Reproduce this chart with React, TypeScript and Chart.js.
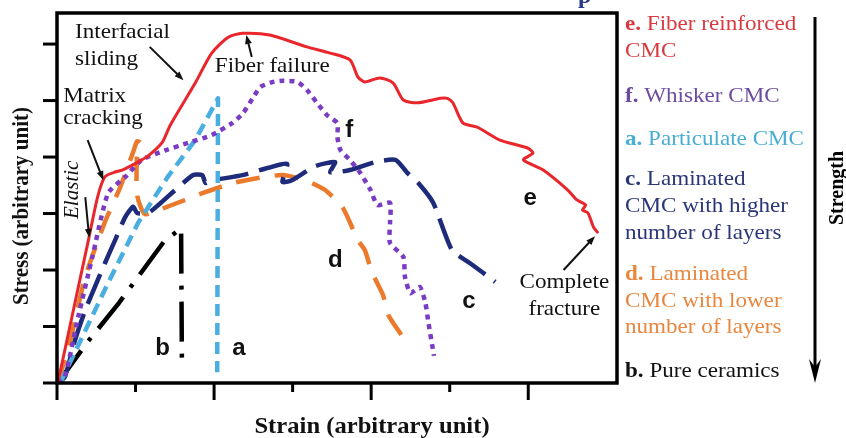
import React, { useEffect, useRef } from "react";
import { Chart, registerables } from "chart.js";

Chart.register(...registerables);

// ---------- axis ticks (no tick labels in the reference) ----------
const xMajorTicks = [0, 2, 4, 6];
const xMinorTicks = [1, 3, 5];
const yTicks = [0, 1, 2, 3, 4, 5, 6];
const X_MAX = 7.13;
const Y_MAX = 6.55;

// ---------- series (strain, stress) in arbitrary units ----------
// e. Fiber reinforced CMC
const eStrain = [0.01, 0.4, 0.52, 0.61, 0.75, 0.83, 1.03, 1.16, 1.34, 1.44, 1.76, 1.97, 2.18, 2.36, 2.71, 3.18, 3.48, 3.73, 3.83, 3.92, 4.11, 4.28, 4.41, 4.59, 4.88, 4.97, 5.04, 5.17, 5.35, 5.64, 5.99, 6.06, 5.94, 6.19, 6.5, 6.62, 6.73, 6.69, 6.76, 6.83, 6.88];
const eStress = [0, 2.53, 3.31, 3.65, 3.74, 3.77, 3.91, 4.02, 4.26, 4.56, 5.31, 5.84, 6.12, 6.19, 6.16, 5.95, 5.84, 5.72, 5.42, 5.33, 5.4, 5.31, 5.01, 4.96, 5.04, 5.04, 4.96, 4.6, 4.53, 4.3, 4.16, 4.07, 3.95, 3.77, 3.42, 3.24, 3.15, 3.06, 3.01, 2.76, 2.67];
// f. Whisker CMC
const fStrain = [0.01, 0.1, 0.27, 0.45, 0.65, 0.87, 1.08, 1.38, 1.67, 1.97, 2.23, 2.37, 2.5, 2.59, 2.75, 2.88, 3.06, 3.18, 3.31, 3.44, 3.57, 3.57, 3.61, 3.73, 3.86, 3.99, 4.08, 4.24, 4.24, 4.24, 4.41, 4.43, 4.5, 4.62, 4.69, 4.73, 4.8];
const fStress = [0, 0.11, 1.17, 2.23, 3.36, 3.65, 3.95, 4.12, 4.25, 4.39, 4.6, 4.78, 5.06, 5.24, 5.33, 5.35, 5.33, 5.19, 4.96, 4.74, 4.6, 4.35, 4.12, 3.95, 3.72, 3.42, 3.15, 3.19, 2.83, 2.48, 2.23, 1.88, 1.59, 1.7, 1.42, 1.06, 0.48];
// a. Particulate CMC
const aStrain = [0.04, 0.32, 0.65, 1.03, 1.41, 1.76, 2.05, 2.04];
const aStress = [0, 0.81, 1.77, 2.83, 3.65, 4.3, 5.04, 0.19];
// c. Laminated CMC with higher number of layers
const cStrain = [0.01, 0.1, 0.23, 0.36, 0.61, 0.74, 0.87, 0.97, 1.02, 1.16, 1.29, 1.73, 1.85, 1.89, 1.95, 2.36, 2.69, 2.93, 2.87, 2.99, 3.29, 3.54, 3.48, 3.73, 4.05, 4.31, 4.46, 4.6, 4.79, 5.03, 5.26, 5.58];
const cStress = [0, 0.11, 0.76, 1.29, 2.12, 2.53, 2.94, 3.12, 3.01, 3.01, 3.15, 3.68, 3.68, 3.54, 3.58, 3.68, 3.81, 3.88, 3.56, 3.59, 3.84, 3.91, 3.73, 3.77, 3.91, 3.95, 3.72, 3.54, 3.19, 2.35, 2.12, 1.79];
// d. Laminated CMC with lower number of layers
const dStrain = [0.01, 0.17, 0.36, 0.61, 0.8, 0.97, 1.02, 1.06, 1.02, 1.02, 1.12, 1.4, 1.63, 1.85, 2.24, 2.56, 2.87, 3.16, 3.41, 3.64, 3.83, 3.92, 4.01, 4.15, 4.22, 4.41];
const dStress = [0, 0.76, 1.88, 2.85, 3.45, 4.09, 4.28, 4.25, 4.09, 3.33, 2.99, 3.12, 3.24, 3.36, 3.54, 3.63, 3.68, 3.59, 3.42, 3.1, 2.53, 2.35, 1.96, 1.56, 1.2, 0.8];
// b. Pure ceramics
const bStrain = [0.01, 0.38, 0.79, 1.36, 1.58, 1.59];
const bStress = [0, 0.71, 1.42, 2.5, 2.74, 0.44];

// ---------- annotations (data coordinates) ----------
const plotNotes = [
  { text: "Interfacial", x: 0.23, y: 6.11, align: "left" },
  { text: "sliding", x: 0.23, y: 5.63, align: "left" },
  { text: "Matrix", x: 0.08, y: 4.97, align: "left" },
  { text: "cracking", x: 0.08, y: 4.58, align: "left" },
  { text: "Fiber failure", x: 2.01, y: 5.5, align: "left" },
  { text: "Complete", x: 6.46, y: 1.68, align: "center" },
  { text: "fracture", x: 6.46, y: 1.2, align: "center" },
];
const curveLetters = [
  { text: "f", x: 3.67, y: 4.35 },
  { text: "e", x: 5.94, y: 3.15 },
  { text: "d", x: 3.45, y: 2.05 },
  { text: "c", x: 5.16, y: 1.33 },
  { text: "b", x: 1.25, y: 0.5 },
  { text: "a", x: 2.23, y: 0.5 },
];
const noteArrows = [
  { x1: 1.18, y1: 5.95, x2: 1.61, y2: 5.36 },
  { x1: 2.48, y1: 5.77, x2: 2.41, y2: 6.16 },
  { x1: 0.39, y1: 4.3, x2: 0.59, y2: 3.59 },
  { x1: 0.36, y1: 3.29, x2: 0.41, y2: 2.57 },
  { x1: 6.45, y1: 2.0, x2: 6.85, y2: 2.6 },
];

// ---------- legend text (right side) ----------
const legendLines = [
  { bold: "e.", rest: " Fiber reinforced", color: "#d93a40", dy: 17 },
  { bold: "", rest: "CMC", color: "#d93a40", dy: 44 },
  { bold: "f.", rest: " Whisker CMC", color: "#6d4c9f", dy: 89 },
  { bold: "a.", rest: " Particulate CMC", color: "#4aaed4", dy: 132 },
  { bold: "c.", rest: " Laminated", color: "#2a3676", dy: 172 },
  { bold: "", rest: "CMC with higher", color: "#2a3676", dy: 199 },
  { bold: "", rest: "number of layers", color: "#2a3676", dy: 226 },
  { bold: "d.", rest: " Laminated", color: "#e8873f", dy: 267 },
  { bold: "", rest: "CMC with lower", color: "#e8873f", dy: 294 },
  { bold: "", rest: "number of layers", color: "#e8873f", dy: 320 },
  { bold: "b.", rest: " Pure ceramics", color: "#111111", dy: 364 },
];

const SERIF = "'Liberation Serif', 'Times New Roman', serif";
const SANS = "'Liberation Sans', Arial, sans-serif";

function pts(xs: number[], ys: number[]) {
  return xs.map((v, i) => ({ x: v, y: ys[i] }));
}

function drawText(
  ctx: CanvasRenderingContext2D,
  s: string,
  x: number,
  y: number,
  font: string,
  color: string,
  align: string = "left",
  sx: number = 1.05
) {
  ctx.save();
  ctx.font = font;
  ctx.fillStyle = color;
  ctx.textAlign = "left";
  ctx.textBaseline = "alphabetic";
  const w = ctx.measureText(s).width * sx;
  const x0 = align === "center" ? x - w / 2 : align === "right" ? x - w : x;
  ctx.translate(x0, y);
  ctx.scale(sx, 1);
  ctx.fillText(s, 0, 0);
  ctx.restore();
  return w;
}

function drawArrow(ctx: CanvasRenderingContext2D, x1: number, y1: number, x2: number, y2: number, head = 9, lw = 2) {
  const ang = Math.atan2(y2 - y1, x2 - x1);
  const c = Math.cos(ang), s = Math.sin(ang);
  ctx.lineWidth = lw;
  ctx.beginPath();
  ctx.moveTo(x1, y1);
  ctx.lineTo(x2 - c * head * 0.7, y2 - s * head * 0.7);
  ctx.stroke();
  const bx = x2 - c * head, by = y2 - s * head;
  const hw = head * 0.38;
  ctx.beginPath();
  ctx.moveTo(x2, y2);
  ctx.lineTo(bx + s * hw, by - c * hw);
  ctx.lineTo(bx - s * hw, by + c * hw);
  ctx.closePath();
  ctx.fill();
}

const overlay = {
  id: "overlay",
  afterDatasetsDraw(chart: any) {
    const { ctx, chartArea: ca } = chart;
    const xs = chart.scales.x, ys = chart.scales.y;
    const px = (v: number) => xs.getPixelForValue(v);
    const py = (v: number) => ys.getPixelForValue(v);
    ctx.save();
    ctx.strokeStyle = "#000";
    ctx.fillStyle = "#000";
    // frame
    ctx.lineWidth = 3.5;
    ctx.beginPath();
    ctx.rect(ca.left, ca.top, ca.right - ca.left, ca.bottom - ca.top);
    ctx.stroke();
    // y ticks
    ctx.lineWidth = 3;
    yTicks.forEach((t) => {
      const y = py(t);
      ctx.beginPath();
      ctx.moveTo(ca.left - 14, y);
      ctx.lineTo(ca.left, y);
      ctx.stroke();
    });
    xMajorTicks.forEach((t) => {
      const x = px(t);
      ctx.beginPath();
      ctx.moveTo(x, ca.bottom);
      ctx.lineTo(x, ca.bottom + 17);
      ctx.stroke();
    });
    xMinorTicks.forEach((t) => {
      const x = px(t);
      ctx.beginPath();
      ctx.moveTo(x, ca.bottom);
      ctx.lineTo(x, ca.bottom + 9);
      ctx.stroke();
    });

    // annotations
    plotNotes.forEach((n) => drawText(ctx, n.text, px(n.x), py(n.y), `22px ${SERIF}`, "#111", n.align));
    curveLetters.forEach((n) => drawText(ctx, n.text, px(n.x), py(n.y), `bold 24px ${SANS}`, "#111", "left", 1));
    // Elastic (rotated, italic)
    ctx.save();
    ctx.translate(px(0.2), py(3.42));
    ctx.rotate(-Math.PI / 2);
    ctx.font = `italic 21px ${SERIF}`;
    ctx.fillStyle = "#111";
    ctx.textAlign = "center";
    ctx.textBaseline = "middle";
    ctx.fillText("Elastic", 0, 0);
    ctx.restore();
    ctx.strokeStyle = "#111";
    ctx.fillStyle = "#111";
    noteArrows.forEach((a) => drawArrow(ctx, px(a.x1), py(a.y1), px(a.x2), py(a.y2)));

    // legend text on the right
    const lx = ca.right + 8;
    legendLines.forEach((l) => {
      let x = lx;
      if (l.bold) x += drawText(ctx, l.bold, x, ca.top + l.dy, `bold 22px ${SERIF}`, l.color);
      drawText(ctx, l.rest, x, ca.top + l.dy, `22px ${SERIF}`, l.color);
    });

    // Strength arrow
    const sxp = ca.right + 198;
    ctx.strokeStyle = "#000";
    ctx.fillStyle = "#000";
    ctx.lineWidth = 3;
    ctx.beginPath();
    ctx.moveTo(sxp, ca.top + 4);
    ctx.lineTo(sxp, ca.bottom - 14);
    ctx.stroke();
    ctx.beginPath();
    ctx.moveTo(sxp, ca.bottom);
    ctx.lineTo(sxp - 6, ca.bottom - 24);
    ctx.lineTo(sxp, ca.bottom - 16);
    ctx.lineTo(sxp + 6, ca.bottom - 24);
    ctx.closePath();
    ctx.fill();
    ctx.save();
    ctx.translate(ca.right + 221, 188);
    ctx.rotate(-Math.PI / 2);
    ctx.scale(1, 1.05);
    ctx.font = `bold 20px ${SERIF}`;
    ctx.textAlign = "center";
    ctx.textBaseline = "middle";
    ctx.fillText("Strength", 0, 0);
    ctx.restore();

    // axis titles
    drawText(ctx, "Strain (arbitrary unit)", (ca.left + ca.right) / 2 + 35, ca.bottom + 50, `bold 23px ${SERIF}`, "#111", "center", 1.07);
    ctx.save();
    ctx.translate(22, (ca.top + ca.bottom) / 2 + 8);
    ctx.rotate(-Math.PI / 2);
    ctx.scale(1, 1.08);
    ctx.font = `bold 21px ${SERIF}`;
    ctx.fillStyle = "#111";
    ctx.textAlign = "center";
    ctx.textBaseline = "middle";
    ctx.fillText("Stress (arbitrary unit)", 0, 0);
    ctx.restore();

    // fragment of the cut-off caption at the very top
    drawText(ctx, "p", 578, 3, `bold 24px ${SERIF}`, "#2a3a8a", "left", 1);
    ctx.restore();
  },
};

export default function App() {
  const ref = useRef<HTMLCanvasElement | null>(null);
  useEffect(() => {
    document.body.style.margin = "0";
    const canvas = ref.current!;
    const line = (label: string, data: any[], color: string, width: number, dash: number[], tension: number, cap: CanvasLineCap = "butt") => ({
      label,
      data,
      showLine: true,
      borderColor: color,
      backgroundColor: color,
      borderWidth: width,
      borderDash: dash,
      borderCapStyle: cap,
      borderJoinStyle: "round",
      pointRadius: 0,
      pointHoverRadius: 0,
      tension,
      fill: false,
    });
    const chart = new Chart(canvas, {
      type: "scatter",
      data: {
        datasets: [
          line("e. Fiber reinforced CMC", pts(eStrain, eStress), "#e8262b", 3, [], 0.25, "round"),
          line("f. Whisker CMC", pts(fStrain, fStress), "#7a3cc4", 4.5, [5, 5], 0.2),
          line("a. Particulate CMC", pts(aStrain, aStress), "#4baee0", 4.5, [12, 7], 0),
          line("c. Laminated CMC with higher number of layers", pts(cStrain, cStress), "#1e2b7a", 4.5, [32, 11], 0.2),
          line("d. Laminated CMC with lower number of layers", pts(dStrain, dStress), "#ec7a2c", 4.5, [24, 15], 0.2),
          line("b. Pure ceramics", pts(bStrain, bStress), "#000000", 4.5, [40, 12, 4, 12], 0),
        ] as any,
      },
      options: {
        responsive: false,
        animation: false,
        devicePixelRatio: 1,
        layout: { padding: { left: 57, right: 229, top: 13, bottom: 55 } },
        scales: {
          x: { type: "linear", min: 0, max: X_MAX, display: false },
          y: { type: "linear", min: 0, max: Y_MAX, display: false },
        },
        plugins: { legend: { display: false }, tooltip: { enabled: false }, title: { display: false } },
        events: [],
      },
      plugins: [overlay],
    });
    return () => chart.destroy();
  }, []);
  return (
    <div style={{ width: 846, height: 438, background: "#fff" }}>
      <canvas ref={ref} width={846} height={438} style={{ display: "block" }} />
    </div>
  );
}
